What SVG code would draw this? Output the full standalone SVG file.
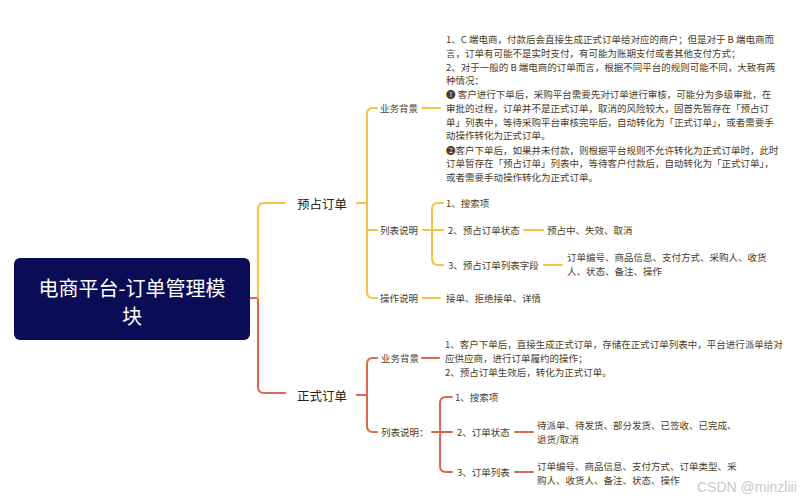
<svg xmlns="http://www.w3.org/2000/svg" width="805" height="500" viewBox="0 0 805 500">
<style>
text{font-family:"Noto Sans CJK SC","Noto Sans",sans-serif;dominant-baseline:central}
.root{fill:#fff;font-size:20px;text-anchor:middle}
.l1{fill:#222;font-size:12.5px}
.t{fill:#4a3c2a;font-size:9.5px}
.y{fill:none;stroke:#F5C244;stroke-width:2;stroke-linecap:round}
.r{fill:none;stroke:#E0674F;stroke-width:2;stroke-linecap:round}
.wm{font-family:"Liberation Sans",Arial,sans-serif;fill:#c9c9c9;font-size:14px}
</style>
<rect width="805" height="500" fill="#fff"/>
<g id="connectors">
<path class="r" d="M250,298 H258 M258,298 V387 Q258,393 264,393 H285"/>
<path class="y" d="M258,298 V209 Q258,203 264,203 H285"/>
<path class="y" d="M357,203 H367 M367,203 V114 Q367,108 373,108 H377 M367,203 V292 Q367,298 373,298 H377 M367,230 H377"/>
<path class="y" d="M422,108 H440 M423,298 H440"/>
<path class="y" d="M423,230 H443 M432,230 V209 Q432,203 438,203 H443 M432,230 V259 Q432,265 438,265 H443"/>
<path class="y" d="M524,230 H543 M544,265 H562"/>
<path class="r" d="M357,395 H367 M367,395 V364 Q367,358 373,358 H377 M367,395 V426 Q367,432 373,432 H377"/>
<path class="r" d="M422,358 H439"/>
<path class="r" d="M432,432 H452 M440,432 V403 Q440,397 446,397 H452 M440,432 V466 Q440,472 446,472 H452"/>
<path class="r" d="M515,432 H533 M515,472 H533"/>
</g>
<g id="root">
<rect x="14" y="258" width="236" height="82" rx="6" fill="#0a0d55"/>
<text class="root" x="132" y="287">电商平台-订单管理模</text>
<text class="root" x="132" y="315">块</text>
</g>
<g id="yuzhan">
<text class="l1" x="297" y="203">预占订单</text>
</g>
<g id="yz-bg">
<text class="t" x="380" y="108">业务背景</text>
</g>
<g id="yz-bg-text">
<text class="t" x="446" y="39">1、C 端电商，付款后会直接生成正式订单给对应的商户；但是对于 B 端电商而</text>
<text class="t" x="446" y="53">言，订单有可能不是实时支付，有可能为账期支付或者其他支付方式；</text>
<text class="t" x="446" y="67">2、对于一般的 B 端电商的订单而言，根据不同平台的规则可能不同，大致有两</text>
<text class="t" x="446" y="80">种情况：</text>
<text class="t" x="446" y="94">❶ 客户进行下单后，采购平台需要先对订单进行审核，可能分为多级审批，在</text>
<text class="t" x="446" y="108">审批的过程，订单并不是正式订单，取消的风险较大，固首先暂存在「预占订</text>
<text class="t" x="446" y="122">单」列表中，等待采购平台审核完毕后，自动转化为「正式订单」，或者需要手</text>
<text class="t" x="446" y="135">动操作转化为正式订单。</text>
<text class="t" x="446" y="150">❷客户下单后，如果并未付款，则根据平台规则不允许转化为正式订单时，此时</text>
<text class="t" x="446" y="163">订单暂存在「预占订单」列表中，等待客户付款后，自动转化为「正式订单」，</text>
<text class="t" x="446" y="177">或者需要手动操作转化为正式订单。</text>
</g>
<g id="yz-list">
<text class="t" x="380" y="230">列表说明</text>
</g>
<g id="yz-list-1"><text class="t" x="446" y="203">1、搜索项</text></g>
<g id="yz-list-2"><text class="t" x="448" y="230">2、预占订单状态</text></g>
<g id="yz-list-2-v"><text class="t" x="547" y="230">预占中、失效、取消</text></g>
<g id="yz-list-3"><text class="t" x="448" y="265">3、预占订单列表字段</text></g>
<g id="yz-list-3-v">
<text class="t" x="567" y="257">订单编号、商品信息、支付方式、采购人、收货</text>
<text class="t" x="567" y="271">人、状态、备注、操作</text>
</g>
<g id="yz-op"><text class="t" x="380" y="298">操作说明</text></g>
<g id="yz-op-v"><text class="t" x="446" y="298">接单、拒绝接单、详情</text></g>
<g id="zhengshi">
<text class="l1" x="297" y="395">正式订单</text>
</g>
<g id="zs-bg"><text class="t" x="381" y="358">业务背景</text></g>
<g id="zs-bg-text">
<text class="t" x="445" y="344">1、客户下单后，直接生成正式订单，存储在正式订单列表中，平台进行派单给对</text>
<text class="t" x="445" y="358">应供应商，进行订单履约的操作；</text>
<text class="t" x="445" y="372">2、预占订单生效后，转化为正式订单。</text>
</g>
<g id="zs-list"><text class="t" x="381" y="432">列表说明：</text></g>
<g id="zs-list-1"><text class="t" x="455" y="397">1、搜索项</text></g>
<g id="zs-list-2"><text class="t" x="457" y="432">2、订单状态</text></g>
<g id="zs-list-2-v">
<text class="t" x="537" y="425">待派单、待发货、部分发货、已签收、已完成、</text>
<text class="t" x="537" y="439">退货/取消</text>
</g>
<g id="zs-list-3"><text class="t" x="457" y="472">3、订单列表</text></g>
<g id="zs-list-3-v">
<text class="t" x="537" y="466">订单编号、商品信息、支付方式、订单类型、采</text>
<text class="t" x="537" y="480">购人、收货人、备注、状态、操作</text>
</g>
<text class="wm" x="697" y="487">CSDN @minzliii</text>
</svg>
